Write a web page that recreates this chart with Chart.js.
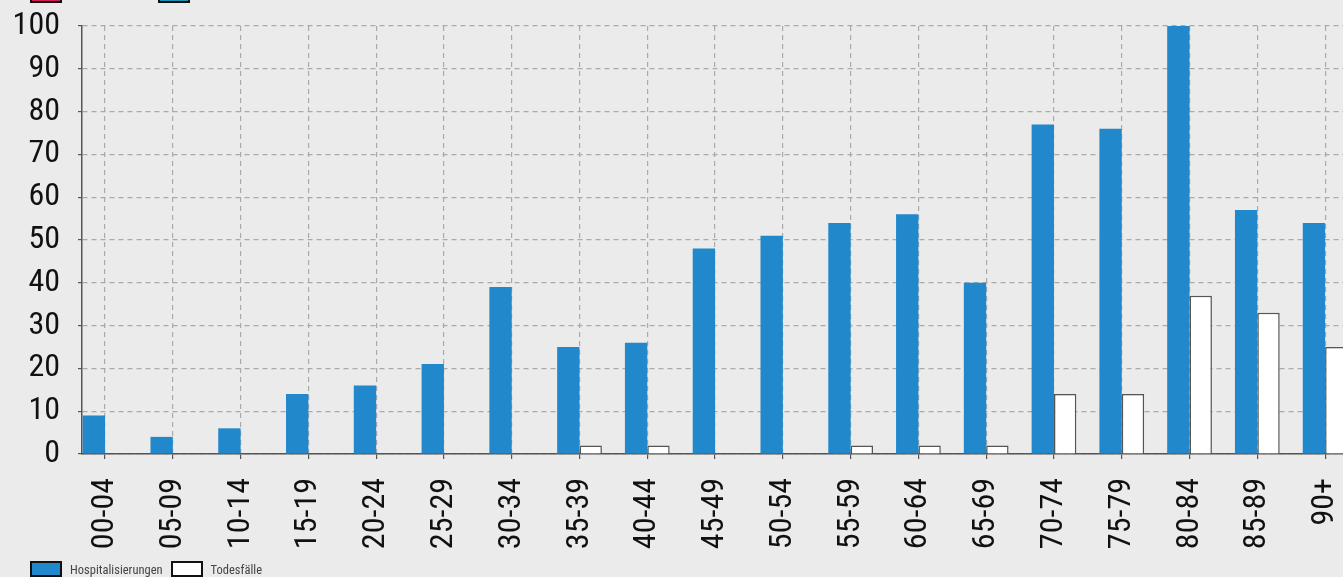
<!DOCTYPE html>
<html>
<head>
<meta charset="utf-8">
<script src="https://cdn.jsdelivr.net/npm/chart.js@4"></script>
<style>
  html, body { margin: 0; padding: 0; background: #ebebeb; overflow: hidden; }
  .wrap { position: relative; width: 1343px; height: 577px; overflow: hidden; }
  #chart { position: absolute; left: 0; top: 0; }
  .legend { position: absolute; left: 30px; top: 561px; display: flex; align-items: center;
    font: 12.5px "Roboto Condensed", Roboto, sans-serif; color: #444; }
  .legend span.box { display: inline-block; width: 28px; height: 12px; border: 2px solid #111; margin-right: 8px; }
  .legend span.item { display: flex; align-items: center; margin-right: 8px; }
  .toplegend { position: absolute; left: 30px; top: -12px; display: flex; }
  .toplegend span { display: inline-block; width: 28px; height: 11px; border: 2px solid #111; margin-right: 96px; }
</style>
</head>
<body>
<div class="wrap">
  <div class="toplegend"><span style="background:#d81b52"></span><span style="background:#1f92b8"></span></div>
  <canvas id="chart"></canvas>
  <div class="legend" id="legend"></div>
</div>
<script>
const ageGroups = ['00-04', '05-09', '10-14', '15-19', '20-24', '25-29', '30-34', '35-39', '40-44', '45-49',
  '50-54', '55-59', '60-64', '65-69', '70-74', '75-79', '80-84', '85-89', '90+'];
const hospitalisierungen = [9, 4, 6, 14, 16, 21, 39, 25, 26, 48, 51, 54, 56, 40, 77, 76, 100, 57, 54];
const todesfaelle = [0, 0, 0, 0, 0, 0, 0, 2, 2, 0, 0, 2, 2, 2, 14, 14, 37, 33, 25];
const yTicks = [0, 10, 20, 30, 40, 50, 60, 70, 80, 90, 100];

const font = '"Roboto Condensed", Roboto, sans-serif';
const canvas = document.getElementById('chart');
canvas.width = 1359;
canvas.height = 577;

const toPoints = vals => vals.map((v, i) => ({ x: i, y: v }));

const chart = new Chart(canvas, {
  type: 'bar',
  data: {
    datasets: [{
      label: 'Hospitalisierungen',
      data: toPoints(hospitalisierungen),
      backgroundColor: '#2288cc',
      borderColor: '#2288cc',
      borderWidth: 0,
      categoryPercentage: 0.66,
      barPercentage: 1
    }, {
      label: 'Todesfälle',
      data: toPoints(todesfaelle),
      backgroundColor: '#ffffff',
      borderColor: '#555555',
      borderWidth: 1.5,
      categoryPercentage: 0.66,
      barPercentage: 1
    }]
  },
  options: {
    responsive: false,
    animation: false,
    layout: { padding: { top: 26, right: 0, left: 0, bottom: 0 } },
    plugins: { legend: { display: false }, tooltip: { enabled: false } },
    scales: {
      x: {
        type: 'linear',
        min: -0.34,
        max: 18.5,
        offset: false,
        afterBuildTicks: s => { s.ticks = ageGroups.map((_, i) => ({ value: i })); },
        afterFit: s => { s.height = 123; s.paddingLeft = 0; s.paddingRight = 0; },
        ticks: {
          callback: v => ageGroups[v],
          minRotation: 90,
          maxRotation: 90,
          autoSkip: false,
          padding: 19,
          color: '#111',
          font: { family: font, size: 32 }
        },
        grid: { offset: false, color: '#aaaaaa', lineWidth: 1.2, tickLength: 5, tickColor: '#555', tickBorderDash: [] },
        border: { display: true, color: '#555', width: 1.5, dash: [5, 4] }
      },
      y: {
        min: 0,
        max: 100,
        afterBuildTicks: s => { s.ticks = yTicks.map(v => ({ value: v })); },
        afterFit: s => { s.width = 82; s.paddingTop = 0; s.paddingBottom = 0; },
        ticks: {
          padding: 18,
          color: '#111',
          font: { family: font, size: 32 }
        },
        grid: { color: '#aaaaaa', lineWidth: 1.2, tickLength: 4, tickColor: '#555', tickBorderDash: [] },
        border: { display: true, color: '#555', width: 1.5, dash: [5, 4] }
      }
    }
  }
});

const legend = document.getElementById('legend');
chart.data.datasets.forEach(ds => {
  const item = document.createElement('span');
  item.className = 'item';
  const box = document.createElement('span');
  box.className = 'box';
  box.style.background = ds.backgroundColor;
  item.appendChild(box);
  item.appendChild(document.createTextNode(ds.label));
  legend.appendChild(item);
});
</script>
</body>
</html>
